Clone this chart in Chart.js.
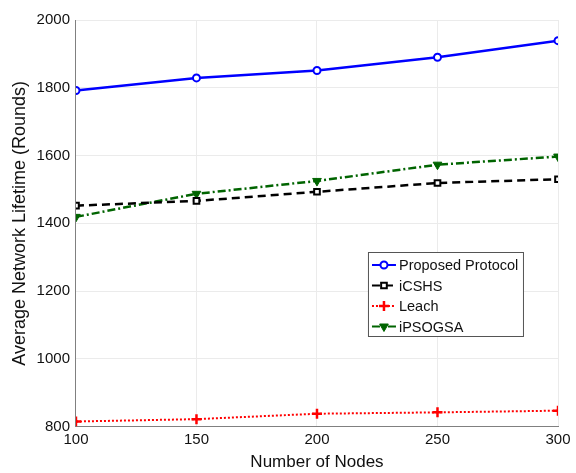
<!DOCTYPE html>
<html>
<head>
<meta charset="utf-8">
<script src="https://cdn.jsdelivr.net/npm/chart.js@4/dist/chart.umd.min.js"></script>
<style>
  html, body { margin: 0; padding: 0; background: #fff; }
  #wrap { width: 576px; height: 473px; }
</style>
</head>
<body>
<div id="wrap"><canvas id="myChart" width="576" height="473"></canvas></div>
<script>
const nodes = [100, 150, 200, 250, 300];
const proposed = [1792, 1829, 1851, 1890, 1939];
const icshs = [1452, 1466, 1493, 1519, 1530];
const leach = [815, 822, 838, 842, 847];
const ipsogsa = [1419, 1487, 1525, 1573, 1597];
const yTicks = [800, 1000, 1200, 1400, 1600, 1800, 2000];

const font = "'Liberation Sans', Arial, sans-serif";

// legend box drawn inside the plot, like the matlab figure
const boxLegend = {
  id: "boxLegend",
  afterDraw(chart) {
    const ctx = chart.ctx;
    const a = chart.chartArea;
    const x = a.left + 292, y = a.top + 232, w = 155, h = 84;
    ctx.save();
    ctx.fillStyle = "#fff";
    ctx.fillRect(x, y, w, h);
    ctx.strokeStyle = "#555";
    ctx.lineWidth = 1;
    ctx.strokeRect(x + 0.5, y + 0.5, w, h);
    chart.data.datasets.forEach((ds, i) => {
      const cy = y + 13 + i * 20.5;
      ctx.strokeStyle = ds.borderColor;
      ctx.lineWidth = 2;
      ctx.setLineDash(ds.borderDash || []);
      ctx.beginPath();
      ctx.moveTo(x + 4, cy);
      ctx.lineTo(x + 28, cy);
      ctx.stroke();
      ctx.setLineDash([]);
      ctx.strokeStyle = ds.pointBorderColor;
      ctx.fillStyle = ds.backgroundColor;
      ctx.lineWidth = ds.pointBorderWidth;
      Chart.helpers.drawPoint(ctx, {
        pointStyle: ds.pointStyle, radius: ds.pointRadius,
        rotation: ds.pointRotation || 0, borderWidth: ds.pointBorderWidth
      }, x + 16, cy);
      ctx.fillStyle = "#111";
      ctx.font = "14.5px " + font;
      ctx.textBaseline = "middle";
      ctx.fillText(ds.label, x + 31, cy + 1);
    });
    ctx.restore();
  }
};

const ctx = document.getElementById("myChart").getContext("2d");
const chart = new Chart(ctx, {
  type: "line",
  data: {
    datasets: [
      {
        label: "Proposed Protocol",
        data: nodes.map((n, i) => ({ x: n, y: proposed[i] })),
        borderColor: "#0000ff",
        backgroundColor: "#ffffff",
        pointBorderColor: "#0000ff",
        pointBackgroundColor: "#ffffff",
        pointStyle: "circle",
        pointRadius: 3.5,
        pointBorderWidth: 2,
        borderWidth: 2.5
      },
      {
        label: "iCSHS",
        data: nodes.map((n, i) => ({ x: n, y: icshs[i] })),
        borderColor: "#000000",
        backgroundColor: "#ffffff",
        pointBorderColor: "#000000",
        pointBackgroundColor: "#ffffff",
        pointStyle: "rect",
        pointRadius: 4,
        pointBorderWidth: 2,
        borderWidth: 2.5,
        borderDash: [8, 5]
      },
      {
        label: "Leach",
        data: nodes.map((n, i) => ({ x: n, y: leach[i] })),
        borderColor: "#ff0000",
        backgroundColor: "#ff0000",
        pointBorderColor: "#ff0000",
        pointStyle: "cross",
        pointRadius: 5,
        pointBorderWidth: 2.5,
        borderWidth: 2,
        borderDash: [2, 2]
      },
      {
        label: "iPSOGSA",
        data: nodes.map((n, i) => ({ x: n, y: ipsogsa[i] })),
        borderColor: "#006400",
        backgroundColor: "#006400",
        pointBorderColor: "#006400",
        pointBackgroundColor: "#006400",
        pointStyle: "triangle",
        pointRotation: 180,
        pointRadius: 5,
        pointBorderWidth: 1,
        borderWidth: 2.5,
        borderDash: [8, 3, 2, 3]
      }
    ]
  },
  options: {
    responsive: false,
    animation: false,
    layout: { padding: { top: 20, right: 18, left: 9, bottom: 0 } },
    plugins: {
      legend: { display: false },
      tooltip: { enabled: false }
    },
    scales: {
      x: {
        type: "linear",
        min: 100,
        max: 300,
        afterBuildTicks: axis => { axis.ticks = nodes.map(v => ({ value: v })); },
        grid: { color: "#ebebeb", drawTicks: false },
        border: { color: "#808080", width: 1 },
        ticks: { color: "#111", font: { family: font, size: 15 }, padding: 4, callback: v => String(v) },
        title: { display: true, text: "Number of Nodes", color: "#111", font: { family: font, size: 17 }, padding: { top: 0, bottom: 0 } }
      },
      y: {
        min: 800,
        max: 2000,
        afterBuildTicks: axis => { axis.ticks = yTicks.map(v => ({ value: v })); },
        grid: { color: "#ebebeb", drawTicks: false },
        border: { color: "#808080", width: 1 },
        ticks: { color: "#111", font: { family: font, size: 15 }, padding: 6, callback: v => String(v) },
        title: { display: true, text: "Average Network Lifetime (Rounds)", color: "#111", font: { family: font, size: 18 }, padding: { top: 0, bottom: 0 } }
      }
    }
  },
  plugins: [boxLegend]
});
</script>
</body>
</html>
